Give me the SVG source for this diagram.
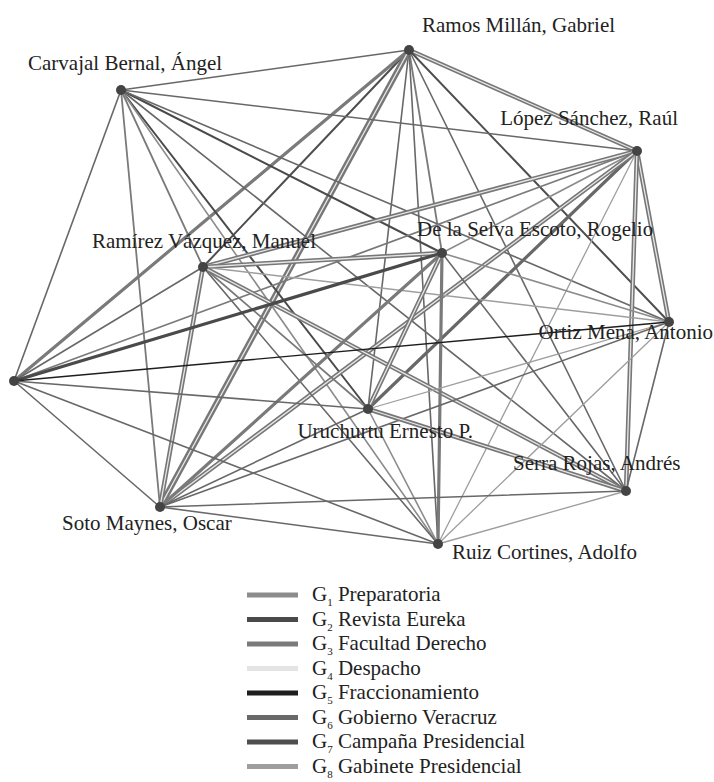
<svg xmlns="http://www.w3.org/2000/svg" width="714" height="782" viewBox="0 0 714 782">
<style>
line{fill:none;stroke-linecap:round}
.g1{stroke:#8c8c8c;stroke-width:1.6}
.g2{stroke:#4a4a4a;stroke-width:2}
.g3{stroke:#7a7a7a;stroke-width:1.8}
.g4{stroke:#e4e4e4;stroke-width:2}
.g5{stroke:#1e1e1e;stroke-width:1.4}
.g6{stroke:#686868;stroke-width:1.6}
.g7{stroke:#4e4e4e;stroke-width:2}
.g8{stroke:#9e9e9e;stroke-width:1.3}
.thk{stroke-width:3.2}
.dbl{stroke:#777;stroke-width:4.5}
.wide{stroke-width:6}
.gap{stroke:#e8e8e8;stroke-width:1.3}
.node circle{fill:#444}
.lbl{font-family:"Liberation Serif","Times New Roman",serif;font-size:21px;fill:#222}
.leg line{stroke-width:5;stroke-linecap:butt}
.leg text{font-family:"Liberation Serif","Times New Roman",serif;font-size:21px;fill:#222}
.sub{font-size:11px}
</style>
<rect width="714" height="782" fill="#fff"/>
<g id="connectors">
<line class="g6" x1="409" y1="50" x2="121" y2="90"/>
<line class="dbl" x1="409" y1="50" x2="637" y2="151"/><line class="gap" x1="409" y1="50" x2="637" y2="151"/>
<line class="g7" x1="409" y1="50" x2="203" y2="267"/>
<line class="g3" x1="409" y1="50" x2="442" y2="253"/>
<line class="g7" x1="409" y1="50" x2="669" y2="322"/>
<line class="g3 thk" x1="409" y1="50" x2="14" y2="381"/>
<line class="g6" x1="409" y1="50" x2="368" y2="409"/>
<line class="g6" x1="409" y1="50" x2="626" y2="491"/>
<line class="dbl wide" x1="409" y1="50" x2="160" y2="507"/><line class="gap" x1="409" y1="50" x2="160" y2="507"/>
<line class="g6" x1="409" y1="50" x2="438" y2="544"/>
<line class="g6" x1="121" y1="90" x2="637" y2="151"/>
<line class="g3" x1="121" y1="90" x2="203" y2="267"/>
<line class="g2" x1="121" y1="90" x2="442" y2="253"/>
<line class="g6" x1="121" y1="90" x2="669" y2="322"/>
<line class="g6" x1="121" y1="90" x2="14" y2="381"/>
<line class="g2" x1="121" y1="90" x2="368" y2="409"/>
<line class="g6" x1="121" y1="90" x2="626" y2="491"/>
<line class="g3" x1="121" y1="90" x2="160" y2="507"/>
<line class="g1" x1="121" y1="90" x2="438" y2="544"/>
<line class="dbl" x1="637" y1="151" x2="203" y2="267"/><line class="gap" x1="637" y1="151" x2="203" y2="267"/>
<line class="g1" x1="637" y1="151" x2="442" y2="253"/>
<line class="dbl" x1="637" y1="151" x2="669" y2="322"/><line class="gap" x1="637" y1="151" x2="669" y2="322"/>
<line class="g3" x1="637" y1="151" x2="14" y2="381"/>
<line class="g6 thk" x1="637" y1="151" x2="368" y2="409"/>
<line class="dbl" x1="637" y1="151" x2="626" y2="491"/><line class="gap" x1="637" y1="151" x2="626" y2="491"/>
<line class="dbl" x1="637" y1="151" x2="160" y2="507"/><line class="gap" x1="637" y1="151" x2="160" y2="507"/>
<line class="g8" x1="637" y1="151" x2="438" y2="544"/>
<line class="dbl" x1="203" y1="267" x2="442" y2="253"/><line class="gap" x1="203" y1="267" x2="442" y2="253"/>
<line class="g8" x1="203" y1="267" x2="669" y2="322"/>
<line class="g6" x1="203" y1="267" x2="14" y2="381"/>
<line class="g3" x1="203" y1="267" x2="368" y2="409"/>
<line class="dbl" x1="203" y1="267" x2="626" y2="491"/><line class="gap" x1="203" y1="267" x2="626" y2="491"/>
<line class="dbl" x1="203" y1="267" x2="160" y2="507"/><line class="gap" x1="203" y1="267" x2="160" y2="507"/>
<line class="g6" x1="203" y1="267" x2="438" y2="544"/>
<line class="g1" x1="442" y1="253" x2="669" y2="322"/>
<line class="g2 thk" x1="442" y1="253" x2="14" y2="381"/>
<line class="dbl" x1="442" y1="253" x2="368" y2="409"/><line class="gap" x1="442" y1="253" x2="368" y2="409"/>
<line class="g6" x1="442" y1="253" x2="626" y2="491"/>
<line class="g3 thk" x1="442" y1="253" x2="160" y2="507"/>
<line class="g3 thk" x1="442" y1="253" x2="438" y2="544"/>
<line class="g5" x1="669" y1="322" x2="14" y2="381"/>
<line class="g8" x1="669" y1="322" x2="368" y2="409"/>
<line class="g6" x1="669" y1="322" x2="626" y2="491"/>
<line class="g6" x1="669" y1="322" x2="160" y2="507"/>
<line class="g8" x1="669" y1="322" x2="438" y2="544"/>
<line class="g6" x1="14" y1="381" x2="368" y2="409"/>
<line class="g6" x1="14" y1="381" x2="160" y2="507"/>
<line class="g6" x1="14" y1="381" x2="438" y2="544"/>
<line class="dbl" x1="368" y1="409" x2="626" y2="491"/><line class="gap" x1="368" y1="409" x2="626" y2="491"/>
<line class="g6" x1="368" y1="409" x2="160" y2="507"/>
<line class="g1" x1="368" y1="409" x2="438" y2="544"/>
<line class="g6" x1="626" y1="491" x2="160" y2="507"/>
<line class="g8" x1="626" y1="491" x2="438" y2="544"/>
<line class="g6" x1="160" y1="507" x2="438" y2="544"/>
</g>
<g id="n-ramos" class="node"><circle cx="409" cy="50" r="5"/><text class="lbl" x="422" y="32">Ramos Millán, Gabriel</text></g>
<g id="n-carvajal" class="node"><circle cx="121" cy="90" r="5"/><text class="lbl" x="28" y="70">Carvajal Bernal, Ángel</text></g>
<g id="n-lopez" class="node"><circle cx="637" cy="151" r="5"/><text class="lbl" x="678" y="125" text-anchor="end">López Sánchez, Raúl</text></g>
<g id="n-ramirez" class="node"><circle cx="203" cy="267" r="5"/><text class="lbl" x="316" y="248" text-anchor="end">Ramírez Vázquez, Manuel</text></g>
<g id="n-delaselva" class="node"><circle cx="442" cy="253" r="5"/><text class="lbl" x="417" y="236">De la Selva Escoto, Rogelio</text></g>
<g id="n-ortiz" class="node"><circle cx="669" cy="322" r="5"/><text class="lbl" x="713" y="339" text-anchor="end">Ortiz Mena, Antonio</text></g>
<g id="n-left" class="node"><circle cx="14" cy="381" r="5"/></g>
<g id="n-uruchurtu" class="node"><circle cx="368" cy="409" r="5"/><text class="lbl" x="473" y="438" text-anchor="end">Uruchurtu Ernesto P.</text></g>
<g id="n-serra" class="node"><circle cx="626" cy="491" r="5"/><text class="lbl" x="513" y="470">Serra Rojas, Andrés</text></g>
<g id="n-soto" class="node"><circle cx="160" cy="507" r="5"/><text class="lbl" x="62" y="530">Soto Maynes, Oscar</text></g>
<g id="n-ruiz" class="node"><circle cx="438" cy="544" r="5"/><text class="lbl" x="452" y="559">Ruiz Cortines, Adolfo</text></g>
<g id="legend" class="leg">
<line x1="247" y1="595" x2="298" y2="595" stroke="#8c8c8c"/>
<text x="312" y="601">G<tspan class="sub" dy="5">1</tspan><tspan dy="-5"> Preparatoria</tspan></text>
<line x1="247" y1="619.5" x2="298" y2="619.5" stroke="#4a4a4a"/>
<text x="312" y="625.5">G<tspan class="sub" dy="5">2</tspan><tspan dy="-5"> Revista Eureka</tspan></text>
<line x1="247" y1="644" x2="298" y2="644" stroke="#7a7a7a"/>
<text x="312" y="650">G<tspan class="sub" dy="5">3</tspan><tspan dy="-5"> Facultad Derecho</tspan></text>
<line x1="247" y1="668.5" x2="298" y2="668.5" stroke="#e4e4e4"/>
<text x="312" y="674.5">G<tspan class="sub" dy="5">4</tspan><tspan dy="-5"> Despacho</tspan></text>
<line x1="247" y1="693" x2="298" y2="693" stroke="#1e1e1e"/>
<text x="312" y="699">G<tspan class="sub" dy="5">5</tspan><tspan dy="-5"> Fraccionamiento</tspan></text>
<line x1="247" y1="717.5" x2="298" y2="717.5" stroke="#686868"/>
<text x="312" y="723.5">G<tspan class="sub" dy="5">6</tspan><tspan dy="-5"> Gobierno Veracruz</tspan></text>
<line x1="247" y1="742" x2="298" y2="742" stroke="#4e4e4e"/>
<text x="312" y="748">G<tspan class="sub" dy="5">7</tspan><tspan dy="-5"> Campaña Presidencial</tspan></text>
<line x1="247" y1="766.5" x2="298" y2="766.5" stroke="#9e9e9e"/>
<text x="312" y="772.5">G<tspan class="sub" dy="5">8</tspan><tspan dy="-5"> Gabinete Presidencial</tspan></text>
</g>
</svg>
